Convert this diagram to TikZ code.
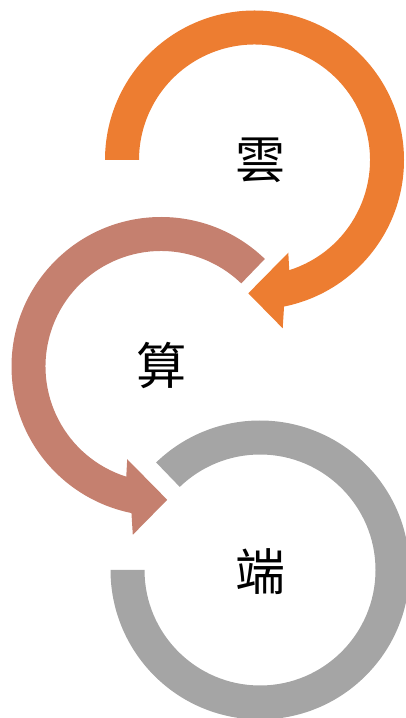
\documentclass[tikz,border=0pt]{standalone}
\usepackage{fontspec}
\newfontfamily\cjk{Noto Sans CJK TC}
\definecolor{arrowOrange}{HTML}{ED7D31}
\definecolor{arrowRose}{HTML}{C5806F}
\definecolor{arrowGrey}{HTML}{A5A5A5}
\begin{document}
\begin{tikzpicture}[x=1pt,y=1pt,
  label/.style={font=\cjk\fontsize{50}{50}\selectfont, text=black, inner sep=0pt}]
\useasboundingbox (0,0) rectangle (406,718);
\clip (0,0) rectangle (406,718);
% orange arrow (top)
\begin{scope}[shift={(254.5,558)}]
  \fill[arrowOrange] (180:149.5) arc[start angle=180, end angle=-78.6, radius=149.5]
    -- (28.2,-168.3) -- (-6.2,-133.3) -- (33.8,-92.7)
    -- (-72.5:115.5) arc[start angle=-72.5, end angle=180, radius=115.5] -- cycle;
  \node[label] (yun) at (5.5,0) {雲};
\end{scope}
% rose arrow (middle)
\begin{scope}[shift={(161,351.5)}]
  \fill[arrowRose] (46:149.5) arc[start angle=46, end angle=258.6, radius=149.5]
    -- (-28.2,-168.3) -- (6.2,-133.3) -- (-33.8,-92.7)
    -- (252.5:115.5) arc[start angle=252.5, end angle=46, radius=115.5] -- cycle;
  \node[label] (suan) at (0.5,0.5) {算};
\end{scope}
% grey arc (bottom)
\begin{scope}[shift={(260,148)}]
  \fill[arrowGrey] (134:149.5) arc[start angle=134, end angle=-180, radius=149.5]
    -- (180:115.5) arc[start angle=-180, end angle=134, radius=115.5] -- cycle;
  \node[label] (duan) at (0,-1.5) {端};
\end{scope}
\end{tikzpicture}
\end{document}
